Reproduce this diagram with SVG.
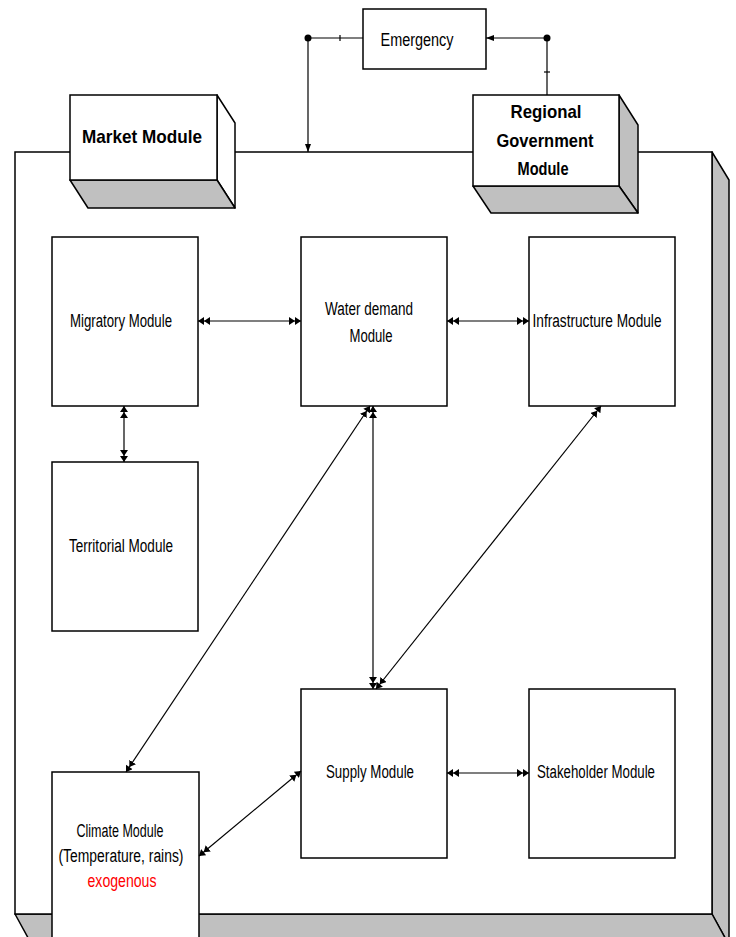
<svg xmlns="http://www.w3.org/2000/svg" width="736" height="937" viewBox="0 0 736 937">
<style>
.f{fill:#fff;stroke:#000;stroke-width:1.5}
.s{fill:#c0c0c0;stroke:#000;stroke-width:1.5;stroke-linejoin:round}
.w{fill:#fff;stroke:#000;stroke-width:1.5;stroke-linejoin:round}
.t{font-family:"Liberation Sans",Arial,sans-serif;font-size:18px;fill:#000;text-anchor:middle}
.b{font-family:"Liberation Sans",Arial,sans-serif;font-size:19px;font-weight:bold;fill:#000;text-anchor:middle}
.r{fill:#f00}
.c{fill:none;stroke:#000;stroke-width:1.2}
</style>
<defs>
<marker id="dh" viewBox="0 0 12 8" refX="12" refY="4" markerWidth="12" markerHeight="8" markerUnits="userSpaceOnUse" orient="auto-start-reverse">
<path d="M0,0 L6,4 L0,8 Z M6,0 L12,4 L6,8 Z" fill="#000"/>
</marker>
<marker id="ah" viewBox="0 0 8 8" refX="8" refY="4" markerWidth="8" markerHeight="8" markerUnits="userSpaceOnUse" orient="auto">
<path d="M0,1 L8,4 L0,7 Z" fill="#000"/>
</marker>
</defs>
<rect width="736" height="937" fill="#fff"/>
<g id="system">
<polygon class="s" points="712,152 729,180 729,945 712,914"/>
<polygon class="s" points="15,914 712,914 729,945 32,945"/>
<rect class="f" x="15" y="152" width="697" height="762"/>
</g>
<g id="market">
<polygon class="w" points="217,95 235,123 235,208 217,180"/>
<polygon class="s" points="70,180 217,180 235,208 88,208"/>
<rect class="f" x="70" y="95" width="147" height="85"/>
<text class="b" x="142" y="143" textLength="120" lengthAdjust="spacingAndGlyphs">Market Module</text>
</g>
<g id="regional">
<polygon class="s" points="619,95 638,125 638,213 619,186"/>
<polygon class="s" points="473,186 619,186 638,213 491,213"/>
<rect class="f" x="473" y="95" width="146" height="91"/>
<text class="b" x="546" y="118" textLength="71" lengthAdjust="spacingAndGlyphs">Regional</text>
<text class="b" x="545" y="147" textLength="97" lengthAdjust="spacingAndGlyphs">Government</text>
<text class="b" x="543" y="175" textLength="51" lengthAdjust="spacingAndGlyphs">Module</text>
</g>
<g id="emergency">
<rect class="f" x="363" y="9" width="123" height="60"/>
<text class="t" x="417" y="46" font-size="16" textLength="73" lengthAdjust="spacingAndGlyphs">Emergency</text>
</g>
<g id="migratory">
<rect class="f" x="52" y="237" width="146" height="169"/>
<text class="t" x="121" y="327" textLength="102" lengthAdjust="spacingAndGlyphs">Migratory Module</text>
</g>
<g id="water">
<rect class="f" x="301" y="237" width="146" height="169"/>
<text class="t" x="369" y="315" textLength="88" lengthAdjust="spacingAndGlyphs">Water demand</text>
<text class="t" x="371" y="342" textLength="43" lengthAdjust="spacingAndGlyphs">Module</text>
</g>
<g id="infrastructure">
<rect class="f" x="529" y="237" width="146" height="169"/>
<text class="t" x="597" y="327" textLength="129" lengthAdjust="spacingAndGlyphs">Infrastructure Module</text>
</g>
<g id="territorial">
<rect class="f" x="52" y="462" width="146" height="169"/>
<text class="t" x="121" y="552" textLength="104" lengthAdjust="spacingAndGlyphs">Territorial Module</text>
</g>
<g id="supply">
<rect class="f" x="301" y="689" width="146" height="169"/>
<text class="t" x="370" y="778" textLength="88" lengthAdjust="spacingAndGlyphs">Supply Module</text>
</g>
<g id="stakeholder">
<rect class="f" x="529" y="689" width="146" height="169"/>
<text class="t" x="596" y="778" textLength="118" lengthAdjust="spacingAndGlyphs">Stakeholder Module</text>
</g>
<g id="climate">
<rect class="f" x="52" y="772" width="147" height="180"/>
<text class="t" x="120" y="837" textLength="87" lengthAdjust="spacingAndGlyphs">Climate Module</text>
<text class="t" x="121" y="862" textLength="125" lengthAdjust="spacingAndGlyphs">(Temperature, rains)</text>
<text class="t r" x="122" y="887" textLength="69" lengthAdjust="spacingAndGlyphs">exogenous</text>
</g>
<g id="connectors">
<line class="c" x1="308" y1="38" x2="363" y2="38"/>
<line class="c" x1="340" y1="35" x2="340" y2="41" stroke-width="2"/>
<line class="c" x1="308" y1="38" x2="308" y2="152" marker-end="url(#ah)"/>
<circle cx="308" cy="38" r="3.5" fill="#000"/>
<line class="c" x1="547" y1="38" x2="486" y2="38" marker-end="url(#ah)"/>
<line class="c" x1="547" y1="38" x2="547" y2="95"/>
<line class="c" x1="544" y1="72" x2="550" y2="72" stroke-width="2"/>
<circle cx="547" cy="38" r="3.5" fill="#000"/>
<line class="c" x1="198" y1="321" x2="301" y2="321" marker-start="url(#dh)" marker-end="url(#dh)"/>
<line class="c" x1="447" y1="321" x2="529" y2="321" marker-start="url(#dh)" marker-end="url(#dh)"/>
<line class="c" x1="447" y1="773" x2="529" y2="773" marker-start="url(#dh)" marker-end="url(#dh)"/>
<line class="c" x1="124" y1="406" x2="124" y2="462" marker-start="url(#dh)" marker-end="url(#dh)"/>
<line class="c" x1="373" y1="406" x2="373" y2="689" marker-start="url(#dh)" marker-end="url(#dh)"/>
<line class="c" x1="370" y1="406" x2="126" y2="772" marker-start="url(#dh)" marker-end="url(#dh)"/>
<line class="c" x1="601" y1="406" x2="376" y2="689" marker-start="url(#dh)" marker-end="url(#dh)"/>
<line class="c" x1="301" y1="771" x2="199" y2="856" marker-start="url(#dh)" marker-end="url(#dh)"/>
</g>
</svg>
